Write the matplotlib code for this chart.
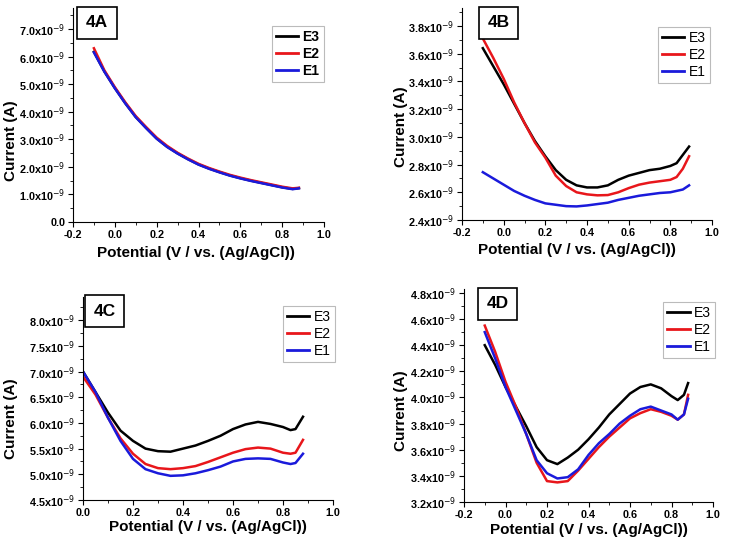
import matplotlib
matplotlib.use("Agg")
import matplotlib.pyplot as plt
from matplotlib.ticker import MultipleLocator, AutoMinorLocator, FuncFormatter

plt.rcParams['font.family'] = ['Liberation Sans', 'DejaVu Sans']

# Currents are in units of 1e-9 A
xa = [-0.1, -0.05, 0.0, 0.05, 0.1, 0.15, 0.2, 0.25, 0.3, 0.35, 0.4, 0.45, 0.5,
      0.55, 0.6, 0.65, 0.7, 0.75, 0.8, 0.85, 0.88]
a_e3 = [6.17, 5.46, 4.86, 4.31, 3.81, 3.41, 3.03, 2.73, 2.49, 2.28, 2.09, 1.94, 1.81,
        1.69, 1.59, 1.50, 1.42, 1.34, 1.26, 1.20, 1.23]
a_e2 = [6.30, 5.50, 4.89, 4.34, 3.84, 3.44, 3.06, 2.76, 2.51, 2.30, 2.11, 1.96, 1.83,
        1.71, 1.61, 1.52, 1.44, 1.36, 1.28, 1.22, 1.24]
a_e1 = [6.15, 5.45, 4.85, 4.30, 3.80, 3.40, 3.02, 2.72, 2.48, 2.27, 2.08, 1.93, 1.80,
        1.68, 1.58, 1.49, 1.41, 1.33, 1.25, 1.19, 1.22]

xb = [-0.1, -0.05, 0.0, 0.05, 0.1, 0.15, 0.2, 0.25, 0.3, 0.35, 0.4, 0.45, 0.5,
      0.55, 0.6, 0.65, 0.7, 0.75, 0.8, 0.83, 0.86, 0.89]
b_e3 = [3.64, 3.51, 3.38, 3.24, 3.10, 2.97, 2.86, 2.76, 2.69, 2.65, 2.635, 2.635, 2.65,
        2.69, 2.72, 2.74, 2.76, 2.77, 2.79, 2.81, 2.87, 2.93]
b_e2 = [3.71, 3.57, 3.42, 3.25, 3.10, 2.96, 2.85, 2.72, 2.645, 2.60, 2.585, 2.578, 2.58,
        2.60, 2.63, 2.655, 2.67, 2.68, 2.69, 2.71, 2.77, 2.86]
b_e1 = [2.745, 2.70, 2.655, 2.61, 2.575, 2.545, 2.52, 2.51, 2.50, 2.498, 2.505, 2.515, 2.525,
        2.545, 2.56, 2.575, 2.585, 2.595, 2.60, 2.61, 2.62, 2.65]

xc = [0.0, 0.05, 0.1, 0.15, 0.2, 0.25, 0.3, 0.35, 0.4, 0.45, 0.5, 0.55, 0.6,
      0.65, 0.7, 0.75, 0.8, 0.83, 0.85, 0.88]
c_e3 = [7.0, 6.6, 6.2, 5.85, 5.65, 5.5, 5.45, 5.44, 5.5, 5.56, 5.65, 5.75, 5.88,
        5.97, 6.02, 5.98, 5.92, 5.86, 5.88, 6.12]
c_e2 = [6.9, 6.55, 6.1, 5.7, 5.4, 5.2, 5.12, 5.1, 5.12, 5.16, 5.24, 5.33, 5.42,
        5.49, 5.52, 5.5, 5.42, 5.4, 5.42, 5.67]
c_e1 = [7.0, 6.6, 6.1, 5.65, 5.3, 5.1, 5.02, 4.97, 4.98, 5.02, 5.08, 5.15, 5.25,
        5.3, 5.31, 5.3, 5.23, 5.2, 5.22, 5.4]

xd = [-0.1, -0.05, 0.0, 0.05, 0.1, 0.15, 0.2, 0.25, 0.3, 0.35, 0.4, 0.45, 0.5,
      0.55, 0.6, 0.65, 0.7, 0.75, 0.8, 0.83, 0.86, 0.88]
d_e3 = [4.40, 4.25, 4.08, 3.93, 3.78, 3.62, 3.52, 3.49, 3.54, 3.60, 3.68, 3.77, 3.87,
        3.95, 4.03, 4.08, 4.10, 4.07, 4.01, 3.98, 4.02, 4.11]
d_e2 = [4.55, 4.35, 4.12, 3.93, 3.72, 3.50, 3.36, 3.35, 3.36, 3.44, 3.53, 3.62, 3.70,
        3.77, 3.84, 3.88, 3.91, 3.89, 3.86, 3.83, 3.87, 4.02]
d_e1 = [4.50, 4.30, 4.08, 3.90, 3.72, 3.52, 3.42, 3.38, 3.39, 3.45, 3.56, 3.65, 3.72,
        3.80, 3.86, 3.91, 3.93, 3.90, 3.87, 3.83, 3.87, 3.99]

W, H = 729, 548


def sci_fmt(v, pos):
    if abs(v) < 1e-9:
        return "0.0"
    return "%.1fx10$^{-9}$" % v


def make_panel(fig, box, x, e3, e2, e1, xlim, ylim, ystep, tag, tag_xy,
               leg_xy, leg_bold, ylab_xy, xlab_xy):
    l, r, b, t = box
    ax = fig.add_axes([l / W, 1 - b / H, (r - l) / W, (b - t) / H])
    ax.plot(x, e3, color='black', lw=1.8, label='E3')
    ax.plot(x, e2, color='#e8161b', lw=1.8, label='E2')
    ax.plot(x, e1, color='#1a1adb', lw=1.8, label='E1')
    ax.set_xlim(*xlim)
    ax.set_ylim(*ylim)
    for s in ['top', 'right']:
        ax.spines[s].set_visible(False)
    ax.xaxis.set_major_locator(MultipleLocator(0.2))
    ax.xaxis.set_minor_locator(AutoMinorLocator(2))
    ax.yaxis.set_major_locator(MultipleLocator(ystep))
    ax.yaxis.set_minor_locator(AutoMinorLocator(2))
    ax.yaxis.set_major_formatter(FuncFormatter(sci_fmt))
    ax.xaxis.set_major_formatter(FuncFormatter(lambda v, p: "%.1f" % v))
    ax.tick_params(which='both', direction='out', labelsize=7.8)
    ax.tick_params(which='major', length=3.5, pad=2)
    ax.tick_params(which='minor', length=2)
    for lab in ax.get_xticklabels() + ax.get_yticklabels():
        lab.set_fontweight('bold')
    ax.set_ylabel('Current (A)', fontsize=11, fontweight='bold')
    ax.set_xlabel('Potential (V / vs. (Ag/AgCl))', fontsize=11, fontweight='bold')
    ax.yaxis.set_label_coords(*ylab_xy)
    ax.xaxis.set_label_coords(*xlab_xy)
    ax.text(tag_xy[0], tag_xy[1], tag, transform=ax.transAxes, fontsize=12.5,
            fontweight='heavy', ha='center', va='center',
            bbox=dict(boxstyle='square,pad=0.5', fc='white', ec='black', lw=1.2))
    leg = ax.legend(loc='upper left', bbox_to_anchor=leg_xy, borderaxespad=0,
                    fancybox=False, framealpha=1, edgecolor='#bbbbbb',
                    handlelength=1.6, handletextpad=0.3, labelspacing=0.2,
                    borderpad=0.3,
                    prop={'size': 10, 'weight': 'bold' if leg_bold else 'normal'})
    leg.get_frame().set_linewidth(0.8)
    for line in leg.get_lines():
        line.set_linewidth(2)
    return ax


fig = plt.figure(figsize=(W / 100, H / 100), dpi=100)

make_panel(fig, (73, 324, 222, 8), xa, a_e3, a_e2, a_e1, (-0.2, 1.0), (0, 7.76), 1.0,
           '4A', (0.096, 0.93), (0.793, 0.916), True, (-0.219, 0.38), (0.49, -0.11))
make_panel(fig, (462, 712, 220, 8), xb, b_e3, b_e2, b_e1, (-0.2, 1.0), (2.4, 3.93), 0.2,
           '4B', (0.146, 0.93), (0.784, 0.91), False, (-0.216, 0.44), (0.46, -0.11))
make_panel(fig, (83, 333, 500, 297), xc, c_e3, c_e2, c_e1, (0.0, 1.0), (4.5, 8.45), 0.5,
           '4C', (0.086, 0.93), (0.80, 0.956), False, (-0.26, 0.40), (0.50, -0.10))
make_panel(fig, (464, 713, 502, 289), xd, d_e3, d_e2, d_e1, (-0.2, 1.0), (3.2, 4.83), 0.2,
           '4D', (0.135, 0.93), (0.80, 0.94), False, (-0.225, 0.43), (0.50, -0.10))

fig.savefig('out.png', dpi=100)
